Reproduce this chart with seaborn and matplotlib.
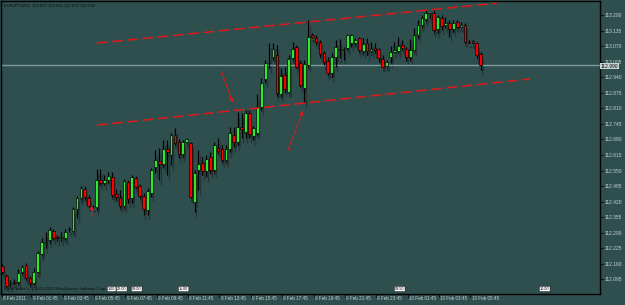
import matplotlib
matplotlib.use("Agg")
import matplotlib.pyplot as plt
import matplotlib.transforms as mtransforms
import numpy as np
import pandas as pd
import seaborn as sns

# ---------------- data (EURJPY M15) ----------------
opens = [112.151, 112.109, 112.076, 112.084, 112.084, 112.126, 112.155, 112.101, 112.080, 112.126,
         112.201, 112.249, 112.260, 112.297, 112.272, 112.270, 112.268, 112.304, 112.297, 112.389,
         112.435, 112.473, 112.435, 112.402, 112.398, 112.511, 112.498, 112.511, 112.523, 112.452,
         112.435, 112.402, 112.502, 112.435, 112.519, 112.486, 112.444, 112.385, 112.456, 112.565,
         112.590, 112.578, 112.640, 112.615, 112.699, 112.669, 112.619, 112.669, 112.665, 112.419,
         112.552, 112.582, 112.548, 112.607, 112.552, 112.644, 112.640, 112.594, 112.640, 112.699,
         112.669, 112.732, 112.711, 112.791, 112.695, 112.707, 112.816, 112.933, 112.998, 113.025,
         113.033, 112.870, 112.950, 112.878, 113.021, 113.067, 113.000, 112.895, 112.991, 113.117,
         113.104, 113.087, 113.041, 113.008, 112.958, 113.025, 113.058, 113.056, 113.062, 113.083,
         113.083, 113.104, 113.050, 113.083, 113.050, 113.062, 113.058, 113.016, 112.987, 113.025,
         113.046, 113.050, 113.075, 113.058, 113.025, 113.054, 113.117, 113.158, 113.184, 113.206,
         113.209, 113.142, 113.188, 113.158, 113.167, 113.142, 113.171, 113.150, 113.158, 113.087,
         113.092, 113.083, 113.037]
highs = [112.159, 112.118, 112.093, 112.097, 112.139, 112.155, 112.164, 112.109, 112.143, 112.214,
         112.268, 112.293, 112.314, 112.306, 112.281, 112.293, 112.306, 112.314, 112.398, 112.444,
         112.486, 112.486, 112.448, 112.406, 112.557, 112.557, 112.532, 112.544, 112.544, 112.473,
         112.469, 112.515, 112.511, 112.532, 112.527, 112.494, 112.456, 112.477, 112.561, 112.636,
         112.644, 112.678, 112.678, 112.707, 112.728, 112.682, 112.678, 112.686, 112.669, 112.552,
         112.636, 112.607, 112.615, 112.628, 112.669, 112.686, 112.657, 112.657, 112.732, 112.732,
         112.795, 112.791, 112.803, 112.803, 112.736, 112.870, 112.937, 113.012, 113.083, 113.083,
         113.075, 112.979, 112.983, 113.033, 113.087, 113.075, 113.012, 113.012, 113.179, 113.125,
         113.117, 113.096, 113.050, 113.025, 113.041, 113.096, 113.100, 113.067, 113.121, 113.121,
         113.104, 113.108, 113.104, 113.104, 113.087, 113.083, 113.062, 113.033, 113.012, 113.071,
         113.087, 113.108, 113.096, 113.067, 113.100, 113.146, 113.179, 113.200, 113.221, 113.209,
         113.221, 113.200, 113.200, 113.192, 113.179, 113.179, 113.179, 113.171, 113.167, 113.096,
         113.096, 113.087, 113.045]
lows = [112.118, 112.063, 112.063, 112.072, 112.076, 112.118, 112.093, 112.067, 112.072, 112.122,
        112.193, 112.226, 112.247, 112.260, 112.256, 112.256, 112.260, 112.293, 112.293, 112.352,
        112.427, 112.427, 112.398, 112.394, 112.385, 112.490, 112.490, 112.498, 112.440, 112.427,
        112.394, 112.394, 112.414, 112.414, 112.477, 112.435, 112.364, 112.364, 112.440, 112.540,
        112.511, 112.565, 112.532, 112.573, 112.657, 112.603, 112.607, 112.665, 112.435, 112.377,
        112.469, 112.532, 112.523, 112.540, 112.544, 112.623, 112.586, 112.586, 112.628, 112.649,
        112.657, 112.686, 112.686, 112.686, 112.678, 112.699, 112.803, 112.920, 112.979, 113.012,
        112.862, 112.858, 112.878, 112.874, 113.012, 112.979, 112.899, 112.832, 112.983, 113.104,
        113.079, 113.025, 112.991, 112.950, 112.941, 112.983, 113.021, 113.012, 113.054, 113.067,
        113.075, 113.046, 113.041, 113.033, 113.041, 113.041, 113.004, 112.983, 112.983, 113.000,
        113.041, 113.041, 113.054, 113.008, 113.012, 113.050, 113.104, 113.150, 113.175, 113.188,
        113.129, 113.125, 113.138, 113.146, 113.108, 113.129, 113.146, 113.146, 113.083, 113.083,
        113.079, 113.021, 112.972]
closes = [112.126, 112.067, 112.080, 112.082, 112.122, 112.147, 112.101, 112.080, 112.126, 112.205,
          112.251, 112.251, 112.302, 112.268, 112.270, 112.272, 112.293, 112.306, 112.389, 112.435,
          112.477, 112.440, 112.402, 112.400, 112.511, 112.498, 112.511, 112.527, 112.448, 112.440,
          112.402, 112.506, 112.431, 112.523, 112.481, 112.444, 112.389, 112.465, 112.552, 112.594,
          112.578, 112.640, 112.628, 112.699, 112.665, 112.619, 112.669, 112.682, 112.440, 112.540,
          112.578, 112.548, 112.598, 112.552, 112.657, 112.632, 112.594, 112.640, 112.707, 112.669,
          112.732, 112.724, 112.791, 112.703, 112.728, 112.816, 112.916, 113.000, 113.000, 113.058,
          112.874, 112.945, 112.891, 113.016, 113.058, 112.983, 112.908, 112.995, 113.108, 113.108,
          113.087, 113.037, 113.004, 112.958, 113.025, 113.067, 113.056, 113.058, 113.117, 113.117,
          113.096, 113.054, 113.079, 113.050, 113.058, 113.054, 113.021, 112.983, 113.004, 113.046,
          113.054, 113.071, 113.062, 113.025, 113.054, 113.117, 113.158, 113.188, 113.209, 113.209,
          113.138, 113.192, 113.154, 113.167, 113.142, 113.167, 113.150, 113.158, 113.087, 113.085,
          113.083, 113.033, 112.990]

price_ticks = [113.200, 113.135, 113.070, 113.005, 112.940, 112.875, 112.810, 112.745, 112.680,
               112.615, 112.550, 112.485, 112.420, 112.355, 112.290, 112.225, 112.160, 112.095]
time_labels = ["8 Feb 2011", "9 Feb 01:45", "9 Feb 03:45", "9 Feb 05:45", "9 Feb 07:45",
               "9 Feb 09:45", "9 Feb 11:45", "9 Feb 13:45", "9 Feb 15:45", "9 Feb 17:45",
               "9 Feb 19:45", "9 Feb 21:45", "9 Feb 23:45", "10 Feb 01:45", "10 Feb 03:45",
               "10 Feb 05:45"]
time_label_bars = [-0.2, 7.35, 15.35, 23.35, 31.35, 39.35, 47.35, 55.35, 63.35, 71.35,
                   79.35, 87.35, 95.35, 103.35, 111.35, 119.35]

bid_price = 112.990
header = "EURJPY,M15  113.037 113.045 112.972 112.990"

# channel lines (bar index, price)
upper_line_x = [24.1, 126.1]
upper_line_y = [113.083, 113.250]
lower_line_x = [24.1, 134.6]
lower_line_y = [112.740, 112.933]
# arrows: (x0, y0, x1, y1)
arrows = [(55.9, 112.963, 58.7, 112.834),
          (72.9, 112.636, 76.7, 112.800),
          (22.75, 112.356, 22.75, 112.404)]

vline_tags = ["1:00", "22:00", "03:00", "11:00", "03:50", "10:00"]
vline_tag_px = [108, 117, 132, 179, 395, 540]

# ---------------- style ----------------
BG = "#2f4f4f"
sns.set_theme(style="white", rc={"axes.facecolor": BG, "figure.facecolor": BG})
plt.rcParams["font.family"] = ["Liberation Sans", "DejaVu Sans"]

W, H = 625, 305
fig = plt.figure(figsize=(W / 100, H / 100), dpi=100)
ax = fig.add_axes([1.5 / W, 1 - 294 / H, 598 / W, 293 / H])
ax.set_facecolor(BG)

df = pd.DataFrame({"bar": np.arange(len(opens)), "open": opens, "high": highs,
                   "low": lows, "close": closes})
up = df["close"] >= df["open"]
bottoms = np.minimum(df["open"], df["close"])
heights = np.maximum(np.abs(df["close"] - df["open"]), 0.0015)

# shadow (ghost) candles
sh_dx, sh_dy = 0.4, -0.022
ax.vlines(df["bar"] + sh_dx, df["low"] + sh_dy, df["high"] + sh_dy, color="#263636", lw=1.0, zorder=1)
ax.bar(df["bar"] + sh_dx, heights, bottom=bottoms + sh_dy, width=0.7, color="#263636",
       linewidth=0, zorder=1)

# wicks + bodies
ax.vlines(df["bar"], df["low"], df["high"], color="#000000", lw=0.9, zorder=2)
ax.bar(df["bar"][up], heights[up], bottom=bottoms[up], width=0.7, color="#32e632",
       edgecolor="#000000", linewidth=0.45, zorder=3)
ax.bar(df["bar"][~up], heights[~up], bottom=bottoms[~up], width=0.7, color="#ff0000",
       edgecolor="#000000", linewidth=0.45, zorder=3)

# bid line
bid_df = pd.DataFrame({"x": [-5, 160], "y": [bid_price, bid_price]})
sns.lineplot(data=bid_df, x="x", y="y", ax=ax, color="#7f9a9a", lw=1.0, zorder=1.5)

# channel
RED = "#e01818"
ax.plot(upper_line_x, upper_line_y, color=RED, lw=1.1, ls=(0, (7, 3)), zorder=4)
ax.plot(lower_line_x, lower_line_y, color=RED, lw=1.1, ls=(0, (7, 3)), zorder=4)
for i, (x0, y0, x1, y1) in enumerate(arrows):
    ax.annotate("", xy=(x1, y1), xytext=(x0, y0),
                arrowprops=dict(arrowstyle="-|>", color=RED, lw=0.8,
                                linestyle="--" if i < 2 else "-",
                                mutation_scale=5, shrinkA=0, shrinkB=0), zorder=4)

ax.set_xlim(-0.255, 152.3)
ax.set_ylim(112.034, 113.259)

for s in ax.spines.values():
    s.set_color("#000000")
    s.set_linewidth(1.0)
    s.set_visible(True)

ax.yaxis.tick_right()
ax.set_yticks(price_ticks)
ax.set_yticklabels([f"{v:.3f}" for v in price_ticks])
ax.tick_params(axis="y", right=True, left=False, length=2.5, width=0.6, color="#000000",
               pad=1, labelsize=3.5, labelcolor="#c8d2d2")
ax.set_xticks(time_label_bars)
ax.set_xticklabels([])
ax.tick_params(axis="x", bottom=True, length=2.5, width=0.6, color="#000000")
ax.set_xlabel("")
ax.set_ylabel("")

trans = mtransforms.blended_transform_factory(ax.transData, ax.transAxes)
offset = mtransforms.ScaledTranslation(1.2 / 100, -4.5 / 100, fig.dpi_scale_trans)
for xb, lab in zip(time_label_bars, time_labels):
    ax.text(xb, 0, lab, transform=trans + offset, ha="left", va="center",
            fontsize=3.3, color="#c8d2d2", clip_on=False)

# bid label on axis
fig.text(601 / W, 1 - 66 / H, f"{bid_price:.3f}", fontsize=3.5, color="#000000",
         ha="left", va="center",
         bbox=dict(boxstyle="square,pad=0.15", facecolor="#c8d6d6", edgecolor="none"))

# header & copyright
fig.text(4 / W, 1 - 5.5 / H, header, fontsize=3.1, color="#0a1010", ha="left", va="center")
fig.text(3.5 / W, 1 - 289 / H, "MetaTrader 5, \u00a9 2001-2011 MetaQuotes Software Corp.",
         fontsize=3.0, color="#0a1010", ha="left", va="center")
for lab, px in zip(vline_tags, vline_tag_px):
    fig.text(px / W, 1 - 289 / H, lab, fontsize=2.7, color="#000000", ha="left", va="center",
             bbox=dict(boxstyle="round,pad=0.15", facecolor="#ffffff", edgecolor="#000000",
                       linewidth=0.3))

fig.savefig("out.png", dpi=100, facecolor=BG)
